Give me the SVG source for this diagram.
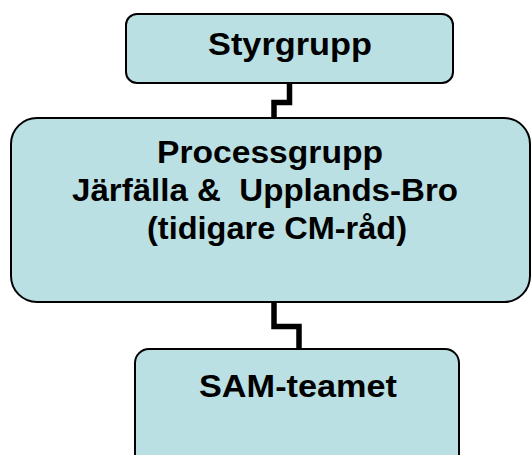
<svg xmlns="http://www.w3.org/2000/svg" width="531" height="455" viewBox="0 0 531 455">
  <style>
    .box { fill: #bae0e4; stroke: #000; stroke-width: 2; }
    .label { font-family: "Liberation Sans", Arial, sans-serif; font-weight: bold; font-size: 32px; fill: #000; text-anchor: middle; }
    .link { fill: none; stroke: #000; stroke-width: 5.5; stroke-linejoin: miter; stroke-linecap: butt; }
  </style>
  <rect width="531" height="455" fill="#fff"/>

  <!-- elbow connectors between the levels -->
  <g id="connectors">
    <path class="link" d="M289.5 84 V102.5 H274 V118"/>
    <path class="link" d="M274 302 V326.5 H299 V349"/>
  </g>

  <g id="styrgrupp">
    <rect class="box" x="126" y="14" width="327" height="69" rx="11" ry="11"/>
    <text class="label" x="290" y="55" textLength="164" lengthAdjust="spacingAndGlyphs">Styrgrupp</text>
  </g>

  <g id="processgrupp">
    <rect class="box" x="11" y="118" width="519" height="184" rx="26" ry="26"/>
    <text class="label" x="270" y="163" textLength="226" lengthAdjust="spacingAndGlyphs">Processgrupp</text>
    <text class="label" x="265" y="201" textLength="386" lengthAdjust="spacingAndGlyphs" xml:space="preserve">Järfälla &amp;  Upplands-Bro</text>
    <text class="label" x="277" y="239" textLength="260" lengthAdjust="spacingAndGlyphs">(tidigare CM-råd)</text>
  </g>

  <g id="sam-teamet">
    <rect class="box" x="135" y="349" width="324" height="130" rx="14" ry="14"/>
    <text class="label" x="298" y="397" textLength="198" lengthAdjust="spacingAndGlyphs">SAM-teamet</text>
  </g>
</svg>
